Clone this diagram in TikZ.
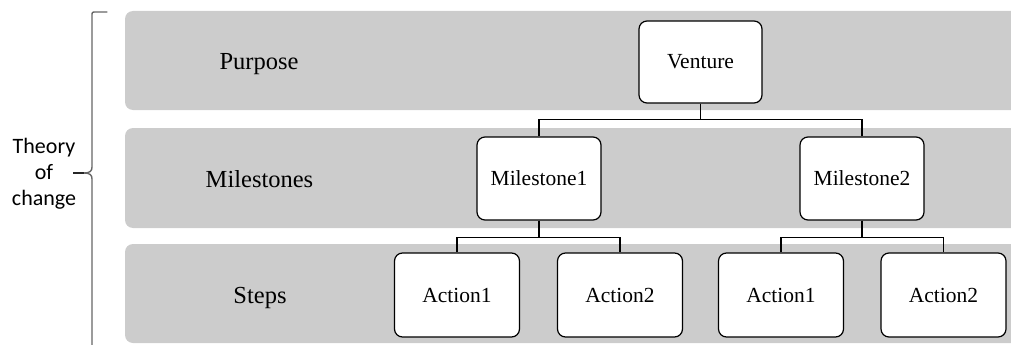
\documentclass[tikz,border=0pt]{standalone}
\usepackage{fontspec}
\setmainfont{Liberation Serif}
\newfontfamily\bracefont{Carlito}
\begin{document}
\begin{tikzpicture}[x=1pt,y=-1pt,
  band/.style={fill=bandgray,draw=none,rounded corners=8pt},
  tbox/.style={draw=black,fill=white,line width=1.2pt,rounded corners=8pt,
    minimum width=124pt,minimum height=83pt,inner sep=0pt,
    font=\fontsize{21.5}{24}\selectfont},
  rowlabel/.style={anchor=base,inner sep=0pt,font=\fontsize{24.5}{28}\selectfont},
  link/.style={draw=black,line width=1.1pt}]
\definecolor{bandgray}{HTML}{CCCCCC}
\useasboundingbox (0,0) rectangle (1011,345);
\clip (0,0) rectangle (1011,345);

% grey bands for the three levels
\fill[band] (125,11) rectangle (1040,110);
\fill[band] (125,128) rectangle (1040,228);
\fill[band] (125,244) rectangle (1040,343);

% level names
\node[rowlabel] (lpurpose) at (259,70) {Purpose};
\node[rowlabel] (lmile) at (259.5,187) {Milestones};
\node[rowlabel] (lsteps) at (260,303) {Steps};

% tree boxes
\node[tbox,minimum width=123pt,minimum height=82pt] (ven) at (700.5,62) {Venture};
\node[tbox] (m1) at (539,178.5) {Milestone1};
\node[tbox] (m2) at (862,178.5) {Milestone2};
\node[tbox,minimum width=125pt,minimum height=84pt] (a11) at (457,295) {Action1};
\node[tbox,minimum width=125pt,minimum height=84pt] (a12) at (620,295) {Action2};
\node[tbox,minimum width=125pt,minimum height=84pt] (a21) at (781,295) {Action1};
\node[tbox,minimum width=125pt,minimum height=84pt] (a22) at (943.5,295) {Action2};

% connectors
\draw[link] (ven.south) -- ++(0,16) -| (m1.north);
\draw[link] (ven.south) -- ++(0,16) -| (m2.north);
\draw[link] (m1.south) -- ++(0,17) -| (a11.north);
\draw[link] (m1.south) -- ++(0,17) -| (a12.north);
\draw[link] (m2.south) -- ++(0,17) -| (a21.north);
\draw[link] (m2.south) -- ++(0,17) -| (a22.north);

% brace spanning the three levels
\coordinate (btop) at (107,12);
\coordinate (bbot) at (107,352);
\coordinate (btip) at (84,173);
\draw[line width=1.4pt,color=black!60,line cap=round,line join=round]
  (btop) -- (96,12) .. controls (92,12) .. (92,16)
  -- (92,167) .. controls (92,171) and (90,173) .. (btip)
  .. controls (90,173) and (92,175) .. (92,179)
  -- (92,348) .. controls (92,352) .. (96,352) -- (bbot);
\draw[line width=1.4pt,color=black!85] (73,173) -- (btip);

\node[align=center,inner sep=0pt,font=\bracefont\fontsize{22}{26}\selectfont]
  (toc) at (44,174) {Theory\\of\\change};
\end{tikzpicture}
\end{document}
